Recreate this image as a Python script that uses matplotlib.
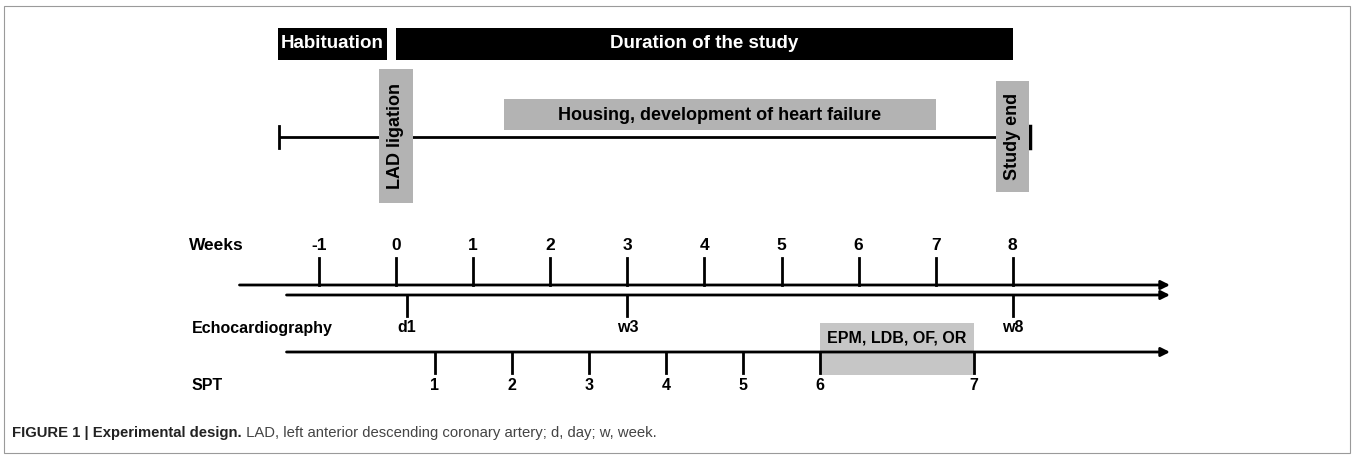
import matplotlib
matplotlib.use('Agg')
import matplotlib.pyplot as plt
from matplotlib.patches import Rectangle

# ---- data (x in weeks) ----
week_ticks = [-1, 0, 1, 2, 3, 4, 5, 6, 7, 8]
echo_labels = ['d1', 'w3', 'w8']
echo_weeks = [1 / 7, 3, 8]
spt_labels = ['1', '2', '3', '4', '5', '6', '7']
spt_weeks = [0.5, 1.5, 2.5, 3.5, 4.5, 5.5, 7.5]
phase_names = ['Habituation', 'Duration of the study']
phase_start = [-1.53, 0.0]
phase_end = [-0.12, 8.0]
housing_name = 'Housing, development of heart failure'
housing_span = (1.4, 7.0)
event_names = ['LAD ligation', 'Study end']
event_weeks = [0.0, 8.0]
test_name = 'EPM, LDB, OF, OR'
test_span = (5.5, 7.5)
timeline_span = (-1.52, 8.22)

BOLD = ['Liberation Sans', 'DejaVu Sans']
NARROW = ['Liberation Sans Narrow', 'Liberation Sans', 'DejaVu Sans']
GREY = '#b3b3b3'

fig = plt.figure(figsize=(13.55, 4.59), dpi=100)
ax = fig.add_axes([0, 0, 1, 1])
px_per_week = 77.1
ax.set_xlim(-396 / px_per_week, (1355 - 396) / px_per_week)
ax.set_ylim(459, 0)
ax.axis('off')

# frame
fig.patches.append(Rectangle((4 / 1355, 6 / 459), 1346 / 1355, 447 / 459,
                             transform=fig.transFigure, fill=False,
                             edgecolor='#9a9a9a', lw=0.8))

# phase bars
for name, s, e in zip(phase_names, phase_start, phase_end):
    ax.add_patch(Rectangle((s, 28), e - s, 32, facecolor='black', edgecolor='none'))
    ax.text((s + e) / 2, 44, name, color='white', fontsize=13.5, fontweight='bold',
            family=BOLD, ha='center', va='center')

# timeline
ax.plot(timeline_span, [137, 137], color='black', lw=2, solid_capstyle='butt')
ax.plot([timeline_span[0]] * 2, [126, 148], color='black', lw=2)
ax.plot([timeline_span[1]] * 2, [126, 148], color='black', lw=2.5)

ax.add_patch(Rectangle((housing_span[0], 99), housing_span[1] - housing_span[0], 31,
                       facecolor=GREY, edgecolor='none'))
ax.text(sum(housing_span) / 2, 115, housing_name, fontsize=13, fontweight='bold',
        family=BOLD, ha='center', va='center')

ev_box = [(69, 203), (81, 192)]
for name, w, (y0, y1) in zip(event_names, event_weeks, ev_box):
    ax.add_patch(Rectangle((w - 0.215, y0), 0.43, y1 - y0, facecolor=GREY,
                           edgecolor='none', zorder=3))
    ax.text(w, (y0 + y1) / 2, name, rotation=90, fontsize=13, fontweight='bold',
            family=BOLD, ha='center', va='center', zorder=4)

# weeks axis
arrow_end = (1170 - 396) / px_per_week
ax.text(-2.68, 245, 'Weeks', fontsize=12.5, fontweight='bold', family=BOLD,
        ha='left', va='center')
for w in week_ticks:
    ax.plot([w, w], [258, 285], color='black', lw=2)
    ax.text(w, 245, str(w), fontsize=12.5, fontweight='bold', family=BOLD,
            ha='center', va='center')


def arrow_line(x0, y):
    ax.annotate('', xy=(arrow_end, y), xytext=(x0, y),
                arrowprops=dict(arrowstyle='-|>', lw=2, color='black',
                                mutation_scale=13, shrinkA=0, shrinkB=0))


arrow_line(-2.03, 285)
arrow_line(-1.42, 295)

# echocardiography
ax.text(-2.65, 328, 'Echocardiography', fontsize=11.5, fontweight='bold', family=BOLD,
        ha='left', va='center')
for lab, w in zip(echo_labels, echo_weeks):
    ax.plot([w, w], [295, 316], color='black', lw=2)
    ax.text(w, 328, lab, fontsize=11.5, fontweight='bold', family=BOLD,
            ha='center', va='center')

# SPT
ax.add_patch(Rectangle((test_span[0], 323), test_span[1] - test_span[0], 52,
                       facecolor='#c6c6c6', edgecolor='none', zorder=0))
ax.text(sum(test_span) / 2, 338, test_name, fontsize=11.5, fontweight='bold',
        family=BOLD, ha='center', va='center')
arrow_line(-1.42, 352)
ax.text(-2.65, 385, 'SPT', fontsize=11.5, fontweight='bold', family=NARROW,
        ha='left', va='center')
for lab, w in zip(spt_labels, spt_weeks):
    ax.plot([w, w], [352, 373], color='black', lw=2)
    ax.text(w, 386, lab, fontsize=11.5, fontweight='bold', family=NARROW,
            ha='center', va='center')

# caption
cap = fig.text(12 / 1355, 1 - 433 / 459, 'FIGURE 1 | Experimental design.',
               fontsize=10.7, fontweight='bold', family=NARROW, color='#222222',
               ha='left', va='center')
ax.annotate(' LAD, left anterior descending coronary artery; d, day; w, week.',
            xy=(1, 0.5), xycoords=cap, fontsize=10.7, family=NARROW,
            color='#444444', ha='left', va='center')

fig.savefig('out.png', dpi=100)
